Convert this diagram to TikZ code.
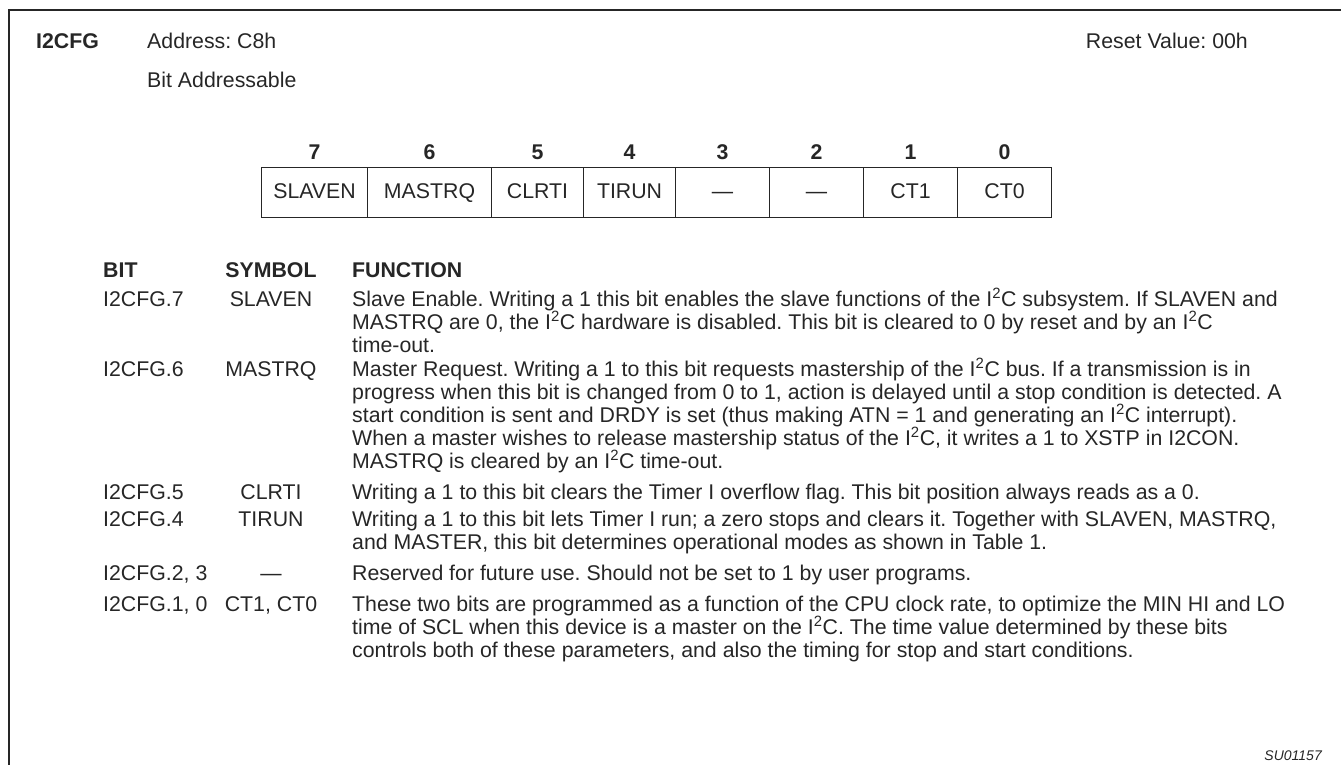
\documentclass[tikz,border=0pt]{standalone}
\usepackage{fontspec}
\setmainfont{Liberation Sans}
\newcommand{\iic}{I\textsuperscript{2}C}
\newcommand{\bodyfont}{\fontsize{21.3}{23}\selectfont\frenchspacing\lineskiplimit=-20pt\lineskip=0pt}
\begin{document}
\begin{tikzpicture}[x=1pt,y=-1pt,
  txt/.style={inner sep=0pt, text=black!85, font=\bodyfont},
  bld/.style={inner sep=0pt, text=black!85, font=\bodyfont\bfseries},
  cell/.style={draw=black!85, line width=1.1pt, minimum height=50pt, inner sep=0pt, text height=15pt, text depth=4pt, anchor=north west, txt},
  para/.style={txt, anchor=base west, align=left},
  sym/.style={txt, anchor=base},
  bitc/.style={txt, anchor=base west},
]
\useasboundingbox (0,0) rectangle (1341,765);
% frame
\coordinate (fbl) at (9,765);
\coordinate (ftl) at (9,10);
\coordinate (ftr) at (1341,10);
\draw[line width=2.6pt, black!85] (fbl) -- (ftl) -- (ftr);
% header
\node[bld, anchor=base west] (reg) at (36,49) {I2CFG};
\node[txt, anchor=base west] (addr) at (147,49) {Address: C8h};
\node[txt, anchor=base west] (bitad) at (147,88) {Bit Addressable};
\node[txt, anchor=base east] (reset) at (1248,49) {Reset Value: 00h};
% register cells
\node[cell, minimum width=106pt] (c7) at (261,167) {SLAVEN};
\node[cell, minimum width=124pt] (c6) at (367,167) {MASTRQ};
\node[cell, minimum width=92pt] (c5) at (491,167) {CLRTI};
\node[cell, minimum width=92pt] (c4) at (583,167) {TIRUN};
\node[cell, minimum width=94pt] (c3) at (675,167) {—};
\node[cell, minimum width=94pt] (c2) at (769,167) {—};
\node[cell, minimum width=94pt] (c1) at (863,167) {CT1};
\node[cell, minimum width=94pt] (c0) at (957,167) {CT0};
\foreach \b in {7,6,5,4,3,2,1,0}{
  \path (c\b.north) ++(0,-8) node[bld, anchor=base] (n\b) {\b};
}
% table header
\node[bld, anchor=base west] (hbit) at (103,277) {BIT};
\node[bld, anchor=base] (hsym) at (271,277) {SYMBOL};
\node[bld, anchor=base west] (hfun) at (352,277) {FUNCTION};
% rows (paragraph nodes are anchored at the baseline of their last line)
\node[bitc] (b7) at (103,306) {I2CFG.7};
\node[sym] (s7) at (271,306) {SLAVEN};
\node[para] (f7) at (352,352) {Slave Enable. Writing a 1 this bit enables the slave functions of the \iic{} subsystem. If SLAVEN and\\
MASTRQ are 0, the \iic{} hardware is disabled. This bit is cleared to 0 by reset and by an \iic\\
time-out.};

\node[bitc] (b6) at (103,376) {I2CFG.6};
\node[sym] (s6) at (271,376) {MASTRQ};
\node[para] (f6) at (352,468) {Master Request. Writing a 1 to this bit requests mastership of the \iic{} bus. If a transmission is in\\
progress when this bit is changed from 0 to 1, action is delayed until a stop condition is detected. A\\
start condition is sent and DRDY is set (thus making ATN = 1 and generating an \iic{} interrupt).\\
When a master wishes to release mastership status of the \iic, it writes a 1 to XSTP in I2CON.\\
MASTRQ is cleared by an \iic{} time-out.};

\node[bitc] (b5) at (103,499) {I2CFG.5};
\node[sym] (s5) at (271,499) {CLRTI};
\node[para] (f5) at (352,499) {Writing a 1 to this bit clears the Timer I overflow flag. This bit position always reads as a 0.};

\node[bitc] (b4) at (103,526) {I2CFG.4};
\node[sym] (s4) at (271,526) {TIRUN};
\node[para] (f4) at (352,549) {Writing a 1 to this bit lets Timer I run; a zero stops and clears it. Together with SLAVEN, MASTRQ,\\
and MASTER, this bit determines operational modes as shown in Table 1.};

\node[bitc] (b23) at (103,580) {I2CFG.2, 3};
\node[sym] (s23) at (271,580) {—};
\node[para] (f23) at (352,580) {Reserved for future use. Should not be set to 1 by user programs.};

\node[bitc] (b10) at (103,611) {I2CFG.1, 0};
\node[sym] (s10) at (271,611) {CT1, CT0};
\node[para] (f10) at (352,657) {These two bits are programmed as a function of the CPU clock rate, to optimize the MIN HI and LO\\
time of SCL when this device is a master on the \iic. The time value determined by these bits\\
controls both of these parameters, and also the timing for stop and start conditions.};

\node[inner sep=0pt, text=black!85, font=\fontsize{14}{16}\selectfont\itshape, anchor=base east] (fig) at (1322,760) {SU01157};
\end{tikzpicture}
\end{document}
